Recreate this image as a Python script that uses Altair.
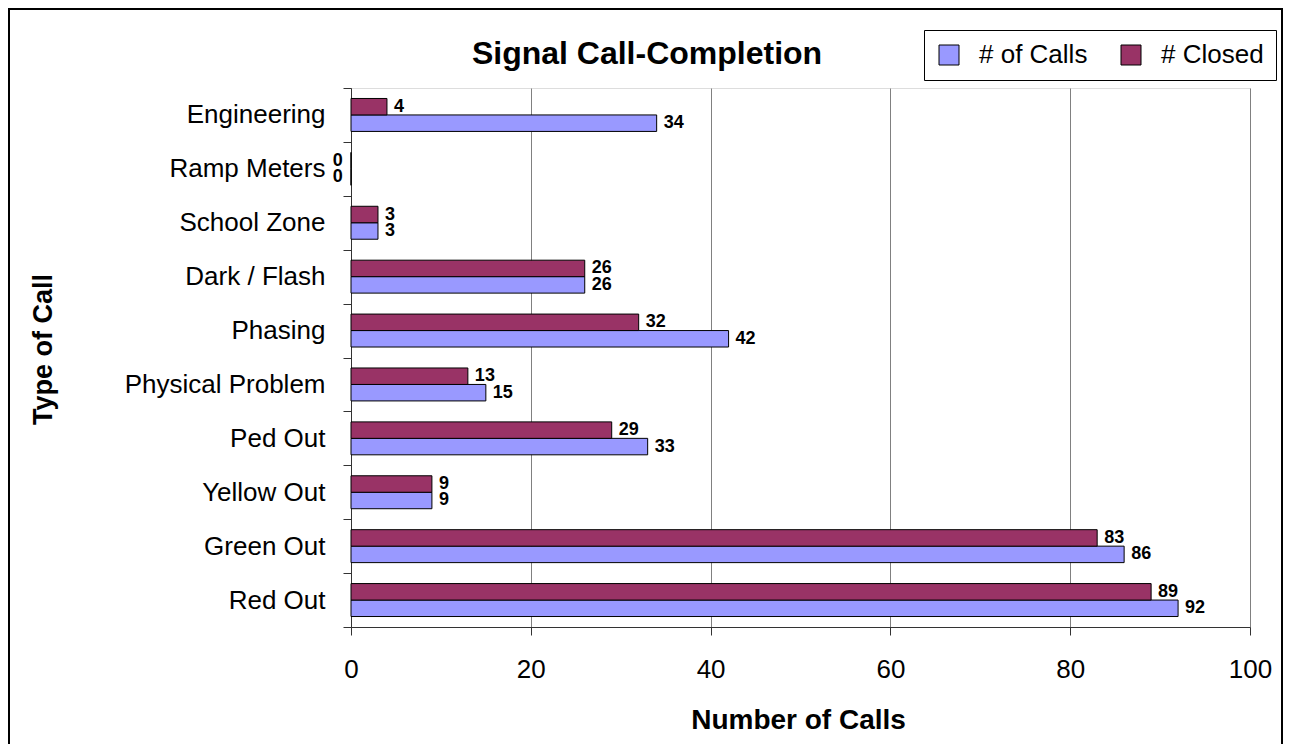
import altair as alt
import pandas as pd

categories = ["Engineering", "Ramp Meters", "School Zone", "Dark / Flash", "Phasing",
              "Physical Problem", "Ped Out", "Yellow Out", "Green Out", "Red Out"]
calls = [34, 0, 3, 26, 42, 15, 33, 9, 86, 92]
closed = [4, 0, 3, 26, 32, 13, 29, 9, 83, 89]
series_names = ["# of Calls", "# Closed"]
x_ticks = [0, 20, 40, 60, 80, 100]
chart_title = "Signal Call-Completion"

rows = []
for c, a, b in zip(categories, calls, closed):
    rows.append({"type": c, "series": series_names[0], "value": a})
    rows.append({"type": c, "series": series_names[1], "value": b})
df = pd.DataFrame(rows)

FONT = "Liberation Sans"

y_enc = alt.Y(
    "type:N", sort=categories,
    scale=alt.Scale(paddingInner=0, paddingOuter=0),
    axis=alt.Axis(
        title="Type of Call", tickBand="extent", tickSize=8, tickColor="#333333",
        domainColor="#333333", labelFont=FONT, labelFontSize=26, labelColor="black",
        labelPadding=18, labelLimit=400, titleFont=FONT, titleFontSize=27,
        titleFontWeight="bold", titleColor="black", titleAngle=270, titleX=-308,
        titleY=261, titleAlign="center", titleBaseline="middle", grid=False,
    ),
)
yoff_enc = alt.YOffset(
    "series:N", sort=["# Closed", "# of Calls"],
    scale=alt.Scale(paddingInner=0, paddingOuter=0.636),
)
x_axis = alt.Axis(
    values=x_ticks, title="Number of Calls", grid=True, gridColor="#808080",
    gridWidth=1, tickSize=8, tickColor="#333333", domainColor="#333333",
    labelFont=FONT, labelFontSize=26, labelColor="black", labelPadding=21,
    labelFlush=False,
    titleFont=FONT, titleFontSize=28, titleFontWeight="bold", titleColor="black",
    titleX=447, titleY=101, titleAlign="center", titleBaseline="alphabetic",
)

base = alt.Chart(df)

bars = base.mark_bar(stroke="black", strokeWidth=1).encode(
    x=alt.X("value:Q", scale=alt.Scale(domain=[0, 100]), axis=x_axis),
    y=y_enc,
    yOffset=yoff_enc,
    color=alt.Color(
        "series:N",
        scale=alt.Scale(domain=series_names, range=["#9999FF", "#993366"]),
        legend=alt.Legend(
            title=None, orient="none", legendX=573, legendY=-58,
            direction="horizontal", symbolType="square", symbolSize=400,
            symbolStrokeColor="black", symbolStrokeWidth=1, labelFont=FONT,
            labelFontSize=26, labelColor="black", labelOffset=17,
            columnPadding=30, padding=12, strokeColor="black", fillColor="white",
        ),
    ),
)

labels = base.transform_calculate(
    lx="datum.value == 0 ? -2.8 : datum.value"
).mark_text(
    align="left", baseline="middle", dx=7, font=FONT, fontSize=18,
    fontWeight="bold", color="black",
).encode(
    x=alt.X("lx:Q"),
    y=alt.Y("type:N", sort=categories),
    yOffset=yoff_enc,
    text=alt.Text("value:Q"),
)

title_df = pd.DataFrame({"t": [chart_title]})
title = alt.Chart(title_df).mark_text(
    align="center", baseline="alphabetic", font=FONT, fontSize=32,
    fontWeight="bold", color="black",
).encode(x=alt.value(296), y=alt.value(-24), text="t:N")

frame = alt.Chart(pd.DataFrame({"a": [0]})).mark_rect(
    fillOpacity=0, stroke="black", strokeWidth=2
).encode(
    x=alt.value(-342), x2=alt.value(931), y=alt.value(-79), y2=alt.value(700)
)

chart = alt.layer(bars, labels, title, frame).properties(
    width=899, height=539,
    autosize=alt.AutoSizeParams(type="none"),
    padding={"left": 343, "top": 80, "right": 34, "bottom": 117},
).configure_view(stroke="#808080").configure(background="white")

chart.save("out.html", embed_options={"renderer": "svg", "actions": False})
